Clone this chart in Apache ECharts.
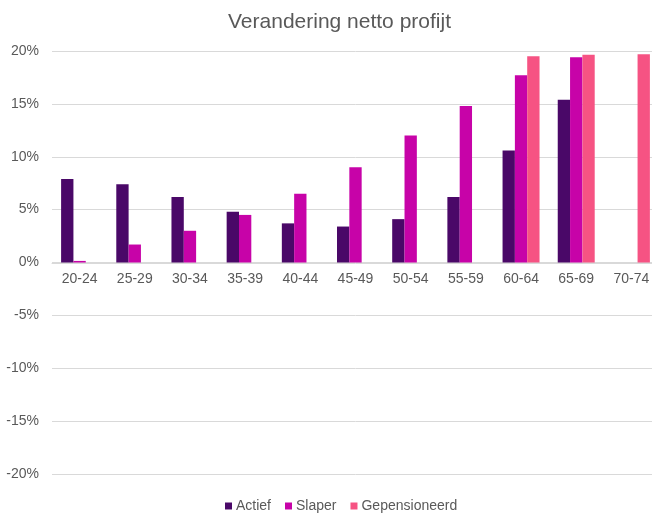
<!DOCTYPE html>
<html>
<head>
	<meta http-equiv="Content-Type" content="text/html; charset=utf-8" />
	<title>Verandering netto profijt</title>
	<script src="https://cdn.jsdelivr.net/npm/echarts@6/dist/echarts.min.js"></script>
	<style>
		html,body{margin:0;padding:0;background:#fff;overflow:hidden;}
		/* iets breder dan het venster: rechterrand van de grafiek valt weg, zoals in het origineel */
		#main{width:660px;height:513px;}
	</style>
</head>
<body>
	<div id="main"></div>
	<script type="text/javascript">
		// leeftijdsgroepen
		var categories = ['20-24','25-29','30-34','35-39','40-44','45-49','50-54','55-59','60-64','65-69','70-74']
		// waarden in %
		var actief = [7.9, 7.4, 6.2, 4.8, 3.7, 3.4, 4.1, 6.2, 10.6, 15.4, null]
		var slaper = [0.15, 1.7, 3.0, 4.5, 6.5, 9.0, 12.0, 14.8, 17.7, 19.4, null]
		var gepensioneerd = [null, null, null, null, null, null, null, null, 19.5, 19.65, 19.7]
		var yTicks = {min: -20, max: 20, interval: 5}

		var font = 'Liberation Sans, Arial, sans-serif'
		var grey = '#595959'

		var myChart = echarts.init(document.getElementById('main'))
		myChart.setOption({
			animation: false,
			title: {
				text: 'Verandering netto profijt',
				left: 223,
				top: 7,
				textStyle: {fontFamily: font, fontSize: 21, fontWeight: 'normal', color: grey}
			},
			legend: {
				top: 494,
				left: 220,
				itemWidth: 7,
				itemHeight: 7,
				itemGap: 14,
				icon: 'rect',
				textStyle: {fontFamily: font, fontSize: 14, color: grey, padding: [0, 0, 0, -1]},
				data: ['Actief', 'Slaper', 'Gepensioneerd']
			},
			grid: [
				{left: 52, top: 51, width: 607, height: 423},
				// bovenste helft: alleen voor de categorielabels op de 0%-lijn
				{left: 52, top: 51, width: 607, height: 212}
			],
			xAxis: [
				{
					type: 'category',
					data: categories,
					gridIndex: 0,
					axisTick: {show: false},
					axisLine: {show: false},
					axisLabel: {show: false}
				},
				{
					type: 'category',
					data: categories,
					gridIndex: 1,
					axisTick: {show: false},
					axisLine: {lineStyle: {color: '#d9d9d9'}},
					axisLabel: {fontFamily: font, fontSize: 14, color: grey, margin: 9}
				}
			],
			yAxis: [
				{
					type: 'value',
					gridIndex: 0,
					min: yTicks.min,
					max: yTicks.max,
					interval: yTicks.interval,
					axisLabel: {formatter: '{value}%', fontFamily: font, fontSize: 14, color: grey, margin: 13},
					splitLine: {lineStyle: {color: '#d9d9d9'}},
					axisLine: {show: false},
					axisTick: {show: false}
				},
				{
					type: 'value',
					gridIndex: 1,
					min: 0,
					max: yTicks.max,
					show: false
				}
			],
			series: [
				{name: 'Actief', type: 'bar', data: actief, barGap: 0, barCategoryGap: '33%', itemStyle: {color: '#4a0868'}},
				{name: 'Slaper', type: 'bar', data: slaper, barGap: 0, barCategoryGap: '33%', itemStyle: {color: '#c703a8'}},
				{name: 'Gepensioneerd', type: 'bar', data: gepensioneerd, barGap: 0, barCategoryGap: '33%', itemStyle: {color: '#f65383'}}
			]
		})
	</script>
</body>
</html>
